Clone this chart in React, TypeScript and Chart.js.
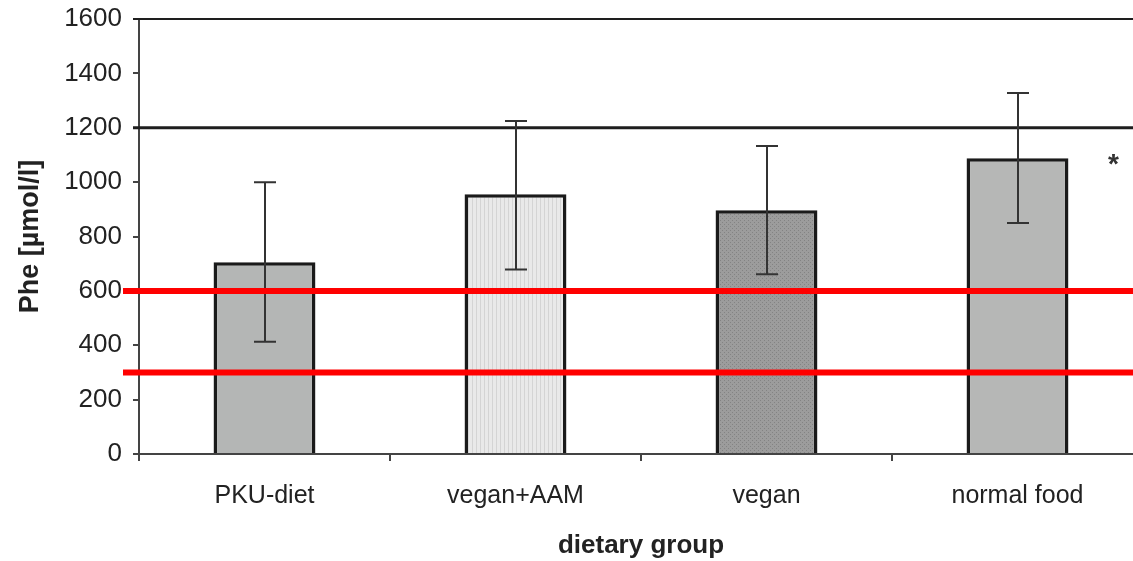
import React, { useEffect, useRef } from "react";
import { Chart, registerables } from "chart.js";

Chart.register(...registerables);

const categories = ["PKU-diet", "vegan+AAM", "vegan", "normal food"];
const means = [705, 955, 897, 1088];
const upperErr = [1000, 1225, 1133, 1328];
const lowerErr = [413, 679, 661, 850];
const yTicks = [0, 200, 400, 600, 800, 1000, 1200, 1400, 1600];
const upperLimit = [1200];
const targetRange = [600, 300];
const significant = ["", "", "", "*"];

const FONT = "'Liberation Sans', Arial, sans-serif";

function makePattern(base: string, mark: string, kind: "vstripe" | "dots"): CanvasPattern | string {
  const c = document.createElement("canvas");
  c.width = 4;
  c.height = 4;
  const g = c.getContext("2d");
  if (!g) return base;
  g.fillStyle = base;
  g.fillRect(0, 0, 4, 4);
  g.fillStyle = mark;
  if (kind === "vstripe") {
    g.fillRect(0, 0, 1, 4);
  } else {
    g.fillRect(0, 0, 1, 1);
    g.fillRect(2, 2, 1, 1);
  }
  const p = g.createPattern(c, "repeat");
  return p || base;
}

export default function App() {
  const ref = useRef<HTMLCanvasElement | null>(null);

  useEffect(() => {
    const canvas = ref.current;
    if (!canvas) return;

    const overlay = {
      id: "overlay",
      afterDatasetsDraw(chart: any) {
        const ctx = chart.ctx as CanvasRenderingContext2D;
        const y = chart.scales.y;
        const area = chart.chartArea;
        const meta = chart.getDatasetMeta(0);
        const W = chart.width;
        ctx.save();
        // top border at max
        ctx.strokeStyle = "#1e1e1e";
        ctx.lineWidth = 2;
        ctx.beginPath();
        const yt = y.getPixelForValue(yTicks[yTicks.length - 1]);
        ctx.moveTo(area.left - 6, yt);
        ctx.lineTo(W, yt);
        ctx.stroke();
        // upper limit line
        ctx.lineWidth = 3;
        upperLimit.forEach((v) => {
          const py = y.getPixelForValue(v);
          ctx.beginPath();
          ctx.moveTo(area.left - 6, py);
          ctx.lineTo(W, py);
          ctx.stroke();
        });
        // error bars
        ctx.strokeStyle = "#333333";
        ctx.lineWidth = 2;
        meta.data.forEach((bar: any, i: number) => {
          const x = Math.round(bar.x);
          const yu = y.getPixelForValue(upperErr[i]);
          const yl = y.getPixelForValue(lowerErr[i]);
          ctx.beginPath();
          ctx.moveTo(x, yu);
          ctx.lineTo(x, yl);
          ctx.moveTo(x - 11, yu);
          ctx.lineTo(x + 11, yu);
          ctx.moveTo(x - 11, yl);
          ctx.lineTo(x + 11, yl);
          ctx.stroke();
        });
        // significance marks
        ctx.fillStyle = "#333333";
        ctx.font = `bold 28px ${FONT}`;
        ctx.textAlign = "center";
        ctx.textBaseline = "top";
        meta.data.forEach((bar: any, i: number) => {
          if (!significant[i]) return;
          const py = y.getPixelForValue(means[i]);
          ctx.fillText(significant[i], bar.x + 96, py - 7);
        });
        // red target lines
        ctx.strokeStyle = "#ff0000";
        ctx.lineWidth = 6;
        targetRange.forEach((v) => {
          const py = y.getPixelForValue(v);
          ctx.beginPath();
          ctx.moveTo(area.left - 16, py);
          ctx.lineTo(W, py);
          ctx.stroke();
        });
        ctx.restore();
      },
    };

    const chart = new Chart(canvas, {
      type: "bar",
      data: {
        labels: categories,
        datasets: [
          {
            data: means,
            backgroundColor: [
              "#b4b6b5",
              makePattern("#e9e9e9", "#d4d4d4", "vstripe"),
              makePattern("#9c9c9c", "#838383", "dots"),
              "#b6b7b6",
            ] as any,
            borderColor: "#1a1a1a",
            borderWidth: 3.5,
            borderSkipped: "bottom",
            barPercentage: 1,
            categoryPercentage: 0.406,
          },
        ],
      },
      options: {
        responsive: false,
        animation: false,
        events: [],
        layout: { padding: { top: 19, right: 7, bottom: 0, left: 0 } },
        plugins: {
          legend: { display: false },
          tooltip: { enabled: false },
        },
        scales: {
          x: {
            grid: {
              offset: true,
              drawOnChartArea: false,
              tickLength: 7,
              color: "#444444",
              lineWidth: 2,
            },
            border: { color: "#444444", width: 2 },
            ticks: {
              color: "#222222",
              font: { family: FONT, size: 25 },
              padding: 20,
              maxRotation: 0,
            },
            title: {
              display: true,
              text: "dietary group",
              color: "#222222",
              font: { family: FONT, size: 26, weight: "bold" },
              padding: { top: 6, bottom: 0 },
            },
            afterFit: (s: any) => {
              s.height = 561 - 454;
              s.paddingLeft = 0;
              s.paddingRight = 0;
            },
          },
          y: {
            min: 0,
            max: 1600,
            afterBuildTicks: (s: any) => {
              s.ticks = yTicks.map((v) => ({ value: v }));
            },
            grid: {
              drawOnChartArea: false,
              tickLength: 6,
              color: "#444444",
              lineWidth: 2,
            },
            border: { color: "#444444", width: 2 },
            ticks: {
              color: "#222222",
              font: { family: FONT, size: 26 },
              padding: 11,
              callback: (v: any) => String(v),
            },
            title: {
              display: true,
              text: "Phe [µmol/l]",
              color: "#222222",
              font: { family: FONT, size: 27, weight: "bold" },
              padding: { top: 14, bottom: 0 },
            },
            afterFit: (s: any) => {
              s.width = 139;
              s.paddingTop = 0;
              s.paddingBottom = 0;
            },
          },
        },
      },
      plugins: [overlay],
    });

    return () => {
      chart.destroy();
    };
  }, []);

  return (
    <div
      style={{
        position: "fixed",
        left: 0,
        top: 0,
        width: 1133,
        height: 561,
        overflow: "hidden",
        background: "#ffffff",
      }}
    >
      <canvas ref={ref} width={1150} height={561} style={{ display: "block" }} />
    </div>
  );
}
